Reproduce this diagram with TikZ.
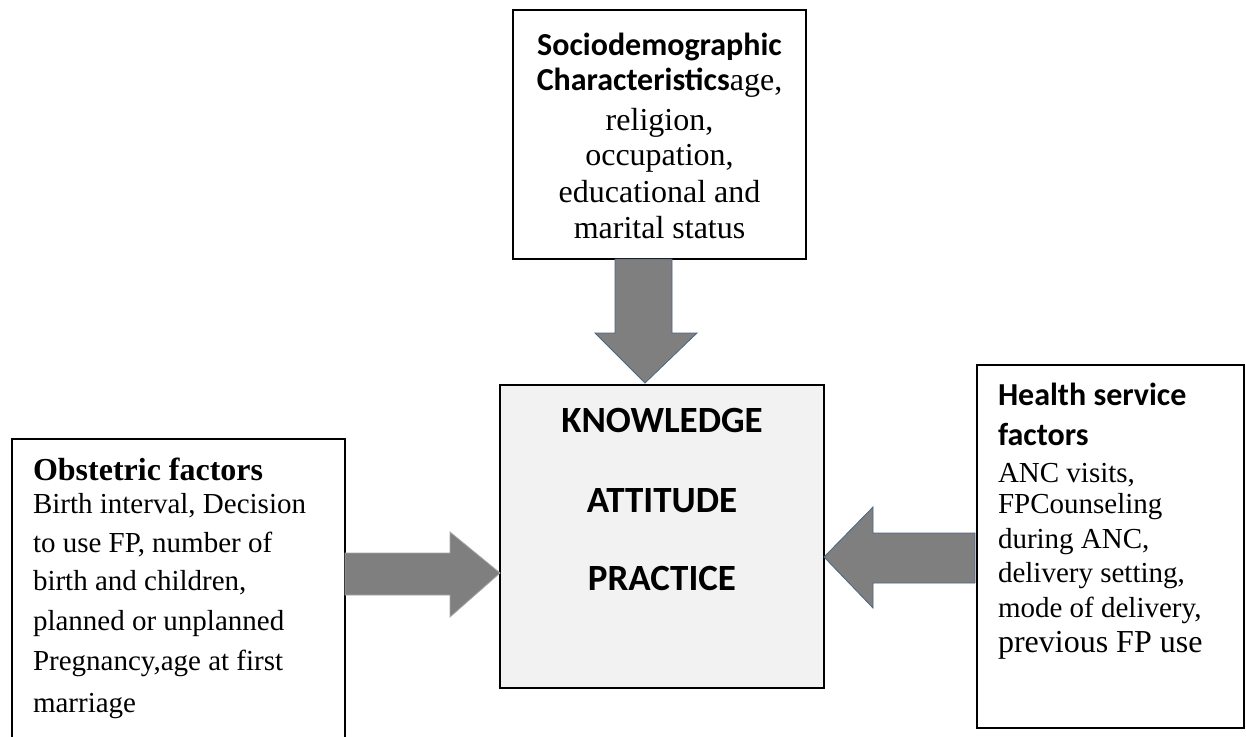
\documentclass[tikz,border=0pt]{standalone}
\usepackage{fontspec}
\setmainfont{Liberation Serif}
\newfontfamily\calfont{Carlito}
\usetikzlibrary{calc}
\definecolor{arrowfill}{HTML}{7F7F7F}
\definecolor{arrowedge}{HTML}{4E6482}
\definecolor{kapfill}{HTML}{F2F2F2}
\begin{document}
\begin{tikzpicture}[x=1pt,y=-1pt,
  box/.style={draw=black, line width=2pt, fill=white, inner sep=0pt, outer sep=0pt, anchor=north west},
  txt/.style={inner sep=0pt, outer sep=0pt},
  head/.style={txt, font=\calfont\bfseries\fontsize{32}{32}\selectfont},
  kaptxt/.style={txt, anchor=base, font=\calfont\bfseries\fontsize{37}{37}\selectfont},
  body/.style={txt, anchor=base west, font=\fontsize{29}{29}\selectfont},
  bigbody/.style={txt, font=\fontsize{32}{32}\selectfont},
  fatarrow/.style={fill=arrowfill, draw=arrowedge, line width=0.8pt, line join=miter},
  fatarrowlight/.style={fill=arrowfill, draw=gray!70, line width=0.8pt, line join=miter}]
\useasboundingbox (0,0) rectangle (1246,736);
\clip (0,0) rectangle (1246,736);

% boxes
\node[box, minimum width=293pt, minimum height=249pt] (socio) at (513,10) {};
\node[box, fill=kapfill, minimum width=324pt, minimum height=303pt] (kap) at (500,385) {};
\node[box, minimum width=333pt, minimum height=330pt] (obst) at (12,439) {};
\node[box, minimum width=267pt, minimum height=363pt] (health) at (977,365) {};

% arrows
\draw[fatarrow] ($(socio.south)+(-44.5,0)$) -- ++(0,74) -- ++(-20,0)
  -- ($(kap.north)+(-17,-2)$) -- ($(socio.south)+(37.5,74)$) -- ++(-25,0)
  -- ($(socio.south)+(12.5,0)$) -- cycle;
\draw[fatarrowlight] ($(obst.north east)+(0,114)$) -- ++(105,0) -- ++(0,-21)
  -- ($(kap.north west)+(0,188)$) -- ($(obst.north east)+(105,178)$) -- ++(0,-22)
  -- ($(obst.north east)+(0,156)$) -- cycle;
\draw[fatarrow] ($(health.north west)+(-2,168)$) -- ++(-102,0) -- ++(0,-26)
  -- ($(kap.north east)+(0,172)$) -- ($(health.north west)+(-104,243)$) -- ++(0,-25)
  -- ($(health.north west)+(-2,218)$) -- cycle;

% sociodemographic text
\node[head, anchor=base] (s1) at (659.5,55) {Sociodemographic};
\node[bigbody, anchor=base] (s2) at (659.5,90) {{\calfont\bfseries Characteristics}age,};
\node[bigbody, anchor=base] (s3) at (659.5,130) {religion,};
\node[bigbody, anchor=base] (s4) at (659.5,165) {occupation,};
\node[bigbody, anchor=base] (s5) at (659.5,202) {educational and};
\node[bigbody, anchor=base] (s6) at (659.5,238) {marital status};

% KAP text
\node[kaptxt] (k1) at (662,432) {KNOWLEDGE};
\node[kaptxt] (k2) at (662,512) {ATTITUDE};
\node[kaptxt] (k3) at (662,590) {PRACTICE};

% obstetric text
\node[bigbody, anchor=base west, font=\bfseries\fontsize{32}{32}\selectfont] (o0) at (33,480) {Obstetric factors};
\node[body] (o1) at (33,513) {Birth interval, Decision};
\node[body] (o2) at (33,552) {to use FP, number of};
\node[body] (o3) at (33,590) {birth and children,};
\node[body] (o4) at (33,630) {planned or unplanned};
\node[body] (o5) at (33,670) {Pregnancy,age at first};
\node[body] (o6) at (33,712) {marriage};

% health service text
\node[head, anchor=base west] (h0) at (998,405) {Health service};
\node[head, anchor=base west] (h1) at (998,445) {factors};
\node[body] (h2) at (998,482) {ANC visits,};
\node[body] (h3) at (998,513) {FPCounseling};
\node[body] (h4) at (998,548) {during ANC,};
\node[body] (h5) at (998,582) {delivery setting,};
\node[body] (h6) at (998,617) {mode of delivery,};
\node[bigbody, anchor=base west] (h7) at (998,652) {previous FP use};
\end{tikzpicture}
\end{document}
